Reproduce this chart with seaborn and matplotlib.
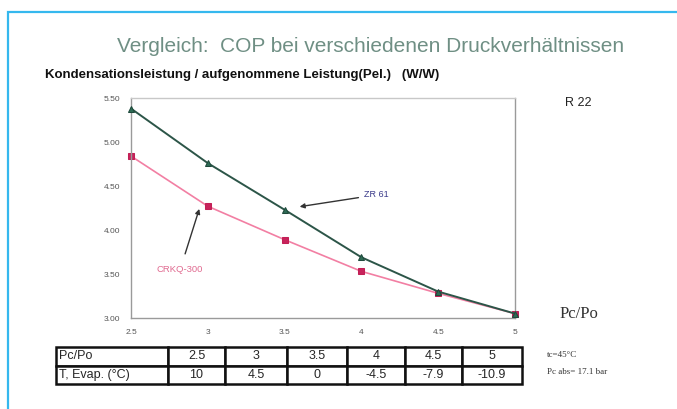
import seaborn as sns
import pandas as pd
import matplotlib.pyplot as plt
from matplotlib.patches import Rectangle

# --- data ---
pc_po = [2.5, 3, 3.5, 4, 4.5, 5]
cop_zr61 = [5.38, 4.76, 4.23, 3.69, 3.30, 3.05]
cop_other = [4.84, 4.27, 3.89, 3.53, 3.28, 3.05]
t_evap = ["10", "4.5", "0", "-4.5", "-7.9", "-10.9"]
y_ticks = [3.0, 3.5, 4.0, 4.5, 5.0, 5.5]
x_labels = ["2.5", "3", "3.5", "4", "4.5", "5"]

df = pd.DataFrame({"Pc/Po": pc_po * 2,
                   "COP": cop_zr61 + cop_other,
                   "Typ": ["ZR 61"] * 6 + ["CRKQ-300"] * 6})

sns.set_style("white")
plt.rcParams["font.family"] = ["Liberation Sans", "DejaVu Sans"]

fig = plt.figure(figsize=(6.77, 4.09), dpi=100)
W, H = 677, 409

# cyan frame around the slide
fig.patches.append(Rectangle((8 / W, -0.2), 1.2, 1 - 12 / H + 0.2,
                             transform=fig.transFigure, fill=False,
                             edgecolor="#35b8ee", linewidth=1.6))

ax = fig.add_axes([131 / W, 1 - 318 / H, 384 / W, 220 / H])
sns.lineplot(data=df[df["Typ"] == "ZR 61"], x="Pc/Po", y="COP", ax=ax,
             color="#2c5548", linewidth=1.4, marker="^", markersize=5,
             markeredgecolor="#1f4a3c", markerfacecolor="#2e6b55",
             clip_on=False, zorder=3)
sns.lineplot(data=df[df["Typ"] == "CRKQ-300"], x="Pc/Po", y="COP", ax=ax,
             color="#f27fa3", linewidth=1.2, marker="s", markersize=5,
             markeredgecolor="#c21f55", markerfacecolor="#c8235c",
             clip_on=False, zorder=2)

ax.set_xlim(2.5, 5)
ax.set_ylim(3.0, 5.5)
ax.set_xticks(pc_po)
ax.set_xticklabels(x_labels)
ax.set_yticks(y_ticks)
ax.set_yticklabels([f"{v:.2f}" for v in y_ticks])
ax.tick_params(labelsize=6, colors="#555555", length=2, pad=6)
ax.set_xlabel("")
ax.set_ylabel("")
for s in ax.spines.values():
    s.set_color("#9a9a9a")
    s.set_linewidth(1.0)
ax.spines["top"].set_color("#c8c8c8")

# annotations
ax.annotate("ZR 61", xy=(3.58, 4.26), xytext=(4.02, 4.40),
            color="#3a3a8a", fontsize=6.5, va="center",
            arrowprops=dict(arrowstyle="-|>", color="#333333", lw=1.0,
                            mutation_scale=7))
ax.annotate("CRKQ-300", xy=(2.95, 4.27), xytext=(2.82, 3.55),
            color="#e06a90", fontsize=6.8, ha="center", va="center",
            arrowprops=dict(arrowstyle="-|>", color="#333333", lw=1.0,
                            mutation_scale=7, shrinkA=6))

# texts
fig.text(371 / W, 1 - 46 / H, "Vergleich:  COP bei verschiedenen Druckverhältnissen",
         ha="center", va="center", fontsize=15, color="#6f8f84")
fig.text(45 / W, 1 - 75 / H,
         "Kondensationsleistung / aufgenommene Leistung(Pel.)   (W/W)",
         ha="left", va="center", fontsize=9.5, color="#111111",
         fontweight="bold")
fig.text(565 / W, 1 - 103 / H, "R 22", ha="left", va="center",
         fontsize=9, color="#222222")
fig.text(560 / W, 1 - 314 / H, "Pc/Po", ha="left", va="center",
         fontsize=12, color="#333333", family=["Liberation Serif"])
fig.text(547 / W, 1 - 355 / H, "tc=45°C", ha="left", va="center",
         fontsize=6.5, color="#333333", family=["Liberation Serif"])
fig.text(547 / W, 1 - 372 / H, "Pc abs= 17.1 bar", ha="left", va="center",
         fontsize=6.5, color="#333333", family=["Liberation Serif"])

# table under the chart
tax = fig.add_axes([56 / W, 1 - 384 / H, 466 / W, 37 / H])
tax.axis("off")
rows = [["Pc/Po"] + x_labels, ["T, Evap. (°C)"] + t_evap]
tbl = tax.table(cellText=rows, bbox=[0, 0, 1, 1],
                colWidths=[112, 57, 62, 60, 58, 57, 60])
tbl.auto_set_font_size(False)
tbl.set_fontsize(9)
for (r, c), cell in tbl.get_celld().items():
    cell.set_linewidth(1.8)
    cell.set_edgecolor("#111111")
    cell.PAD = 0.03
    cell.get_text().set_ha("left" if c == 0 else "center")

fig.savefig("out.png", dpi=100)
